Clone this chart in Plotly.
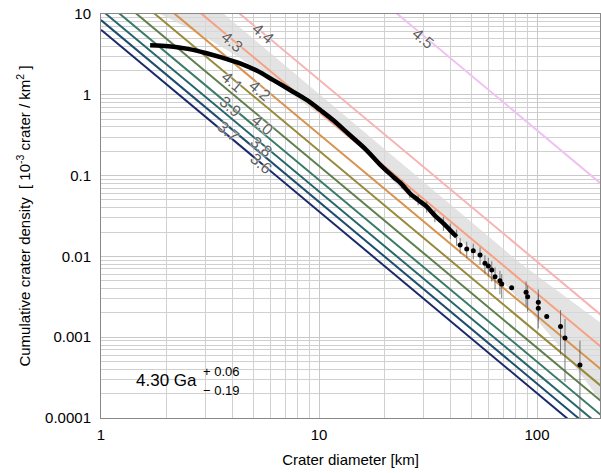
import math
import plotly.graph_objects as go

# ---------------- data ----------------
ages = ["3.6", "3.7", "3.8", "3.9", "4.0", "4.1", "4.2", "4.3", "4.4", "4.5"]
iso_colors = ["#1b2a6b", "#1f4d6e", "#2a676d", "#3b7a68", "#5f7f4c",
              "#978a3c", "#d8924c", "#f6a182", "#f8b3b3", "#f0c2f2"]
iso_d = [1, 200]
iso_n_at_1 = [6.40, 8.41, 11.3, 15.7, 23.4, 36.1, 57.9, 109.6, 272.9, 11482]
iso_n_at_200 = [4.26e-5, 5.60e-5, 7.52e-5, 1.045e-4, 1.556e-4, 2.40e-4,
                3.85e-4, 7.30e-4, 1.815e-3, 0.0764]

label_d = [5.42, 3.84, 5.42, 3.91, 5.46, 3.98, 5.36, 3.98, 5.55, 30.1]
label_n = [0.142, 0.349, 0.228, 0.713, 0.423, 1.45, 1.146, 4.54, 5.77, 5.0]

# uncertainty envelope (upper edge, then lower edge)
band_upper_d = [1, 3.666, 83.56, 200]
band_upper_n = [190.8, 10, 0.008284, 0.00145]
band_lower_d = [200, 194.5, 127.5, 83.56, 54.77, 35.89, 23.53, 15.42,
                10.11, 6.625, 4.342, 2.846, 1.865, 1.865]
band_lower_n = [0.000150, 0.000167, 0.000756, 0.002887, 0.00955, 0.02665,
                0.0702, 0.2259, 0.5623, 1.285, 2.853, 5.655, 10, 1000]

curve_d = [1.68, 1.9, 2.15, 2.5, 3.05, 3.6, 4.34, 5.2, 6.17, 7.4, 8.78,
           10.2, 11.6, 13.8, 16.5, 19.0, 21.9, 24.0, 26.1, 28.5, 31.2,
           34.0, 37.2, 40.0, 42.8]
curve_n = [4.10, 4.05, 3.94, 3.70, 3.27, 2.88, 2.45, 1.98, 1.52, 1.14, 0.863,
           0.64, 0.487, 0.32, 0.207, 0.138, 0.0969, 0.078, 0.0604, 0.050, 0.0412,
           0.032, 0.0257, 0.021, 0.0175]

pts_d = [44.4, 47.6, 51.0, 54.8, 57.7, 59.8, 62.0, 64.2, 67.6, 68.9,
         76.5, 89.1, 90.6, 101.4, 101.4, 110.8, 128.2, 134.4, 157.4]
pts_n = [0.01384, 0.01236, 0.01178, 0.0104, 0.00822, 0.0076, 0.00679,
         0.00561, 0.0050, 0.00455, 0.0041, 0.0036, 0.00317, 0.0027,
         0.00228, 0.0018, 0.00136, 0.00098, 0.000453]
err_plus = [0.003, 0.0028, 0.0026, 0.0025, 0.0021, 0.0020, 0.0019, 0.0017,
            0.0016, 0.0015, 0, 0.0013, 0.0012, 0.0012, 0.0011, 0, 0.0008,
            0.0007, 0.00045]
err_minus = [0.003, 0.0028, 0.0026, 0.0025, 0.0021, 0.0020, 0.0019, 0.0017,
             0.0016, 0.0015, 0, 0.0012, 0.0011, 0.0011, 0.0010, 0, 0.00075,
             0.0007, 0.000452]

# small error bars along the dense part of the distribution
dense_err_d = [24.0, 26.1, 28.5, 31.2, 34.0, 37.2, 40.0, 42.8]
dense_err_n = [0.078, 0.0604, 0.050, 0.0412, 0.032, 0.0257, 0.021, 0.0175]
dense_err = [0.009, 0.008, 0.007, 0.0065, 0.0055, 0.005, 0.0045, 0.004]

x_ticks = [1, 10, 100]
x_ticktext = ["1", "10", "100"]
y_ticks = [1e-4, 1e-3, 1e-2, 1e-1, 1, 10]
y_ticktext = ["0.0001", "0.001", "0.01", "0.1", "1", "10"]

FONT = "Liberation Sans, Arial, sans-serif"

fig = go.Figure()

# uncertainty band
fig.add_trace(go.Scatter(x=band_upper_d + band_lower_d,
                         y=band_upper_n + band_lower_n,
                         mode="lines", fill="toself",
                         fillcolor="rgba(218,218,218,0.75)", line=dict(width=0),
                         hoverinfo="skip", showlegend=False))

# isochrons
for age, c, n1, n2 in zip(ages, iso_colors, iso_n_at_1, iso_n_at_200):
    fig.add_trace(go.Scatter(x=iso_d, y=[n1, n2], mode="lines",
                             line=dict(color=c, width=2), name=age,
                             showlegend=False))

# error bars along dense part
fig.add_trace(go.Scatter(x=dense_err_d, y=dense_err_n, mode="markers",
                         marker=dict(size=1, color="rgba(0,0,0,0)"),
                         error_y=dict(type="data", array=dense_err,
                                      color="rgba(90,90,90,0.8)", thickness=1,
                                      width=0),
                         showlegend=False, hoverinfo="skip"))

# data: dense part
fig.add_trace(go.Scatter(x=curve_d, y=curve_n, mode="lines",
                         line=dict(color="black", width=4.5, shape="spline"),
                         showlegend=False))
# data: discrete points
fig.add_trace(go.Scatter(x=pts_d, y=pts_n, mode="markers",
                         marker=dict(color="black", size=5),
                         error_y=dict(type="data", symmetric=False,
                                      array=err_plus, arrayminus=err_minus,
                                      color="rgba(90,90,90,0.8)", thickness=1,
                                      width=0),
                         showlegend=False))

# isochron labels
for age, d, n in zip(ages, label_d, label_n):
    fig.add_annotation(x=math.log10(d), y=math.log10(n),
                       xref="x", yref="y", text=age, showarrow=False,
                       textangle=40,
                       font=dict(family=FONT, size=16, color="#606060",
                                 shadow="0px 0px 2px #ffffff, 0px 0px 2px #ffffff"))

fig.add_annotation(x=0.196, y=0.0916, xref="paper", yref="paper",
                   text="4.30 Ga", showarrow=False, xanchor="right",
                   yanchor="middle", font=dict(family=FONT, size=17, color="black"))
fig.add_annotation(x=0.2, y=0.1139, xref="paper", yref="paper",
                   text="+ 0.06", showarrow=False, xanchor="left",
                   yanchor="middle", font=dict(family=FONT, size=13, color="black"))
fig.add_annotation(x=0.2, y=0.0693, xref="paper", yref="paper",
                   text="\u2212 0.19", showarrow=False, xanchor="left",
                   yanchor="middle", font=dict(family=FONT, size=13, color="black"))

minor_x = [m * 10 ** k for k in range(0, 3) for m in range(2, 10)]
minor_y = [m * 10 ** k for k in range(-4, 1) for m in range(2, 10)]

fig.update_xaxes(type="log", range=[0, 2.289], tickvals=x_ticks, ticktext=x_ticktext,
                 automargin=False,
                 showgrid=True, gridcolor="#c8c8c8", gridwidth=1,
                 minor=dict(tickvals=minor_x, showgrid=True, gridcolor="#d0d0d0",
                            ticks=""),
                 showline=True, linecolor="#888", linewidth=1, mirror=True,
                 ticks="", zeroline=False, ticklabelstandoff=3,
                 tickfont=dict(family=FONT, size=15, color="black"),
                 title=dict(text="Crater diameter [km]", standoff=12,
                            font=dict(family=FONT, size=15, color="black")))
fig.update_yaxes(type="log", range=[-4, 1], tickvals=y_ticks, ticktext=y_ticktext,
                 automargin=False,
                 showgrid=True, gridcolor="#c8c8c8", gridwidth=1,
                 minor=dict(tickvals=minor_y, showgrid=True, gridcolor="#d0d0d0",
                            ticks=""),
                 showline=True, linecolor="#888", linewidth=1, mirror=True,
                 ticks="", zeroline=False, ticklabelstandoff=6,
                 tickfont=dict(family=FONT, size=15, color="black"),
                 title=dict(text="Cumulative crater density  [ 10<sup>-3</sup> crater / km<sup>2</sup> ]",
                            standoff=10,
                            font=dict(family=FONT, size=15, color="black")))

fig.update_layout(width=601, height=473, plot_bgcolor="white", paper_bgcolor="white",
                  margin=dict(l=101, r=1, t=14, b=55), showlegend=False)

fig.write_html("out.html", config={"displayModeBar": False},
               post_script="document.body.style.margin='0';document.body.style.overflow='hidden';")
